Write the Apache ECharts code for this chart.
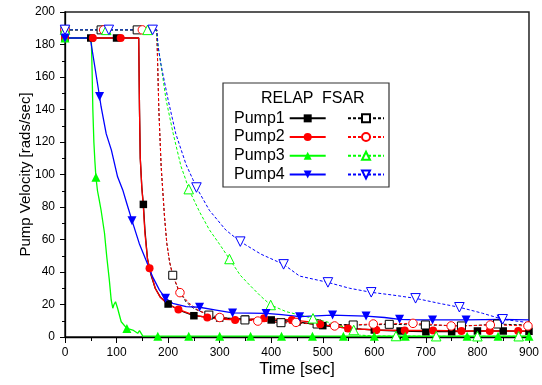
<!DOCTYPE html>
<html><head><meta charset="utf-8">
<script src="https://cdn.jsdelivr.net/npm/echarts@6/dist/echarts.min.js"></script>
<style>html,body{margin:0;padding:0;background:#fff}#c{width:542px;height:385px}</style>
</head><body><div id="c"></div>
<script>
// ---------- data (time [s], velocity [rads/sec]) ----------
const xTicks = [0,100,200,300,400,500,600,700,800,900];
const yTicks = [0,20,40,60,80,100,120,140,160,180,200];

const p1RelapMarks = [[0,184],[50,184],[100,184],[152,81.6],[200,20.3],[250,13.1],[300,11.7],[350,11],[400,10.5],[450,9.3],[500,7],[550,5.5],[600,4.3],[650,3.7],[700,3.3],[750,3.3],[800,3.7],[850,3.7],[900,3.5]];
const p1RelapCurve = [[143,184],[144.5,140],[146,110],[149,92],[155,66],[160,48],[167,38],[175,30],[185,24.5],[225,16],[275,12.2],[425,10],[475,8.2],[525,6.2],[575,4.8],[625,4]];

const p1FsarMarks = [[0,189],[70,189],[140,189],[209,38],[279,13.5],[349,10.5],[419,8.8],[489,8],[559,7.4],[629,7.8],[699,7.4],[769,6.8],[839,8]];
const p1FsarCurve = [[178,189],[180,165],[182,140],[186.5,105],[193,74],[197.5,57.6],[203,46],[220,29],[235,21.5],[250,17.5],[300,12],[380,9.8],[450,8.5],[520,7.8],[600,7.5],[660,7.6],[730,7.2],[800,7.2],[870,7.6],[900,7.5]];

const p2RelapMarks = [[0,184],[54,184],[108,184],[164,42.3],[220,17],[276,12],[330,10.5],[386,11.5],[440,10.5],[495,7.8],[549,5.3],[604,4.3],[659,4],[714,4],[769,3.7],[824,3.7],[879,3.7]];
const p2RelapCurve = [[143,184],[144.5,140],[146,110],[149,92],[152,80],[155,64],[160,48],[175,30],[184,24.8],[200,20],[250,13.5],[300,11],[360,11],[415,11],[470,9.5],[520,6.5],[900,3.7]];

const p2FsarMarks = [[0,189],[75,189],[150,189],[223,27.3],[300,12],[374,9.8],[448,9],[523,6.8],[598,8],[675,8.4],[749,6.8],[825,7.4],[898,6.8]];
const p2FsarCurve = [[178,189],[180,165],[182,140],[186.5,105],[193,74],[197.5,57.6],[203,46],[209,38],[240,21],[260,16],[330,11],[410,9.3],[480,8],[560,7.5],[640,8.2],[710,7.8],[790,7],[860,7.2],[900,6.8]];

const p3RelapMarks = [[0,184],[60,98.3],[120,5.3],[180,0.5],[240,0.5],[300,0.5],[360,0.5],[420,0.5],[480,0.5],[540,0.5],[600,0.5],[660,0.5],[720,0.5],[780,0.5],[840,0.5],[900,0.5]];
const p3RelapCurve = [[51,184],[52.5,165],[54,140],[56,120],[58,108],[63,90],[66,85],[70,78],[76.6,64],[81,49.4],[86,35],[89.6,22.8],[92.7,17.7],[95,20],[98,21.7],[102,17.7],[109,9.4],[131.5,4.3],[141,2.3],[144.5,3.9],[151,0.5]];

const p3FsarMarks = [[0,189],[80,189],[160,189],[240,91],[319,48],[399,19.7],[481,11.5],[560,4.3],[642,0.6],[720,0.5],[800,0.5],[880,0.5]];
const p3FsarCurve = [[177,189],[180,180],[185,170],[196,146],[210,125],[225,105],[234,97],[261,77],[280,66],[300,57],[340,38],[358,32],[380,25],[429,15.6],[519,8.4],[571,1.2],[600,0.6],[900,0.5]];

const p4RelapMarks = [[0,184],[67,148],[130,71.6],[195,23.8],[261,18.3],[325,14.8],[390,14.5],[455,12.5],[519,13.5],[584,12.9],[649,10.9],[713,10.5],[778,10.5],[846,10.9]];
const p4RelapCurve = [[47,184],[50,182],[55,172],[60,162],[70,141.7],[80,125],[90,115],[102,98.6],[112,90.5],[120,82],[144,57.6],[157,47.4],[170,37],[183,29],[209,20.7],[235,18.7],[293,16.6],[420,13.8],[550,13.2],[620,12],[680,10.5],[900,10.5]];

const p4FsarMarks = [[0,189],[85,189],[170,189],[255,92],[340,58.7],[424,44.7],[510,33.6],[594,27.5],[680,23.8],[765,18.3],[849,10.9]];
const p4FsarCurve = [[178,189],[181,178],[186,168],[200,146],[215,125],[235,106],[248,97],[280,78],[312,65.8],[380,51],[455,37.5],[552,30],[636,25.8],[726,20.7],[810,14.6],[900,8.8]];

// ---------- build ----------
const FONT = 'Liberation Sans, Arial, sans-serif';
const DOWN = 'path://M0,0 L10,0 L5,10 Z';
function merge(curve, marks){
  const a = curve.map(p => ({value:p, symbol:'none', m:0}));
  const b = marks.map(p => ({value:p, m:1}));
  return a.concat(b).sort((u,v)=>u.value[0]-v.value[0] || u.m - v.m).map(d => { const o = {value:d.value}; if(!d.m) o.symbol='none'; return o; });
}
function relap(name, color, symbol, size, curve, marks){
  return {name, type:'line', data:merge(curve,marks), symbol, symbolSize:size, showSymbol:true,
    lineStyle:{color, width:1.3, type:'solid'}, itemStyle:{color, borderWidth:0},
    emphasis:{disabled:true}, silent:true, z:3};
}
function fsar(name, color, symbol, size, curve, marks){
  return {name, type:'line', data:merge(curve,marks), symbol, symbolSize:size, showSymbol:true,
    lineStyle:{color, width:1, type:[3,2]}, itemStyle:{color:'#fff', borderColor:color, borderWidth:1},
    emphasis:{disabled:true}, silent:true, z:3};
}
const series = [
  relap('Pump1','#000000','rect',7.5,p1RelapCurve,p1RelapMarks),
  fsar('Pump1 FSAR','#000000','rect',8,p1FsarCurve,p1FsarMarks),
  relap('Pump2','#ff0000','circle',8,p2RelapCurve,p2RelapMarks),
  fsar('Pump2 FSAR','#ff0000','circle',8.5,p2FsarCurve,p2FsarMarks),
  relap('Pump3','#00ff00','triangle',9,p3RelapCurve,p3RelapMarks),
  fsar('Pump3 FSAR','#00ff00','triangle',9.5,p3FsarCurve,p3FsarMarks),
  relap('Pump4','#0000ff',DOWN,9,p4RelapCurve,p4RelapMarks),
  fsar('Pump4 FSAR','#0000ff',DOWN,9.5,p4FsarCurve,p4FsarMarks)
];

const chart = echarts.init(document.getElementById('c'), null, {renderer:'canvas'});
chart.setOption({
  animation:false,
  backgroundColor:'#fff',
  textStyle:{fontFamily:FONT},
  grid:{left:65, right:13, top:12, bottom:48, show:true, borderColor:'#222', borderWidth:1.5, backgroundColor:'transparent'},
  xAxis:{type:'value', min:xTicks[0], max:xTicks[xTicks.length-1], interval:100,
    name:'Time [sec]', nameLocation:'middle', nameGap:24, nameMoveOverlap:false, nameTextStyle:{fontSize:16.5, color:'#000', fontFamily:FONT},
    axisLine:{show:true, lineStyle:{color:'#000', width:1.3}},
    axisTick:{show:true, length:6, lineStyle:{color:'#000'}},
    minorTick:{show:true, splitNumber:2, length:4, lineStyle:{color:'#000'}},
    splitLine:{show:false},
    axisLabel:{fontSize:12, color:'#000', margin:10, fontFamily:FONT}},
  yAxis:{type:'value', min:yTicks[0], max:yTicks[yTicks.length-1], interval:20,
    name:'Pump Velocity [rads/sec]', nameLocation:'middle', nameGap:32, nameMoveOverlap:false, nameTextStyle:{fontSize:15, color:'#000', fontFamily:FONT},
    axisLine:{show:true, lineStyle:{color:'#000', width:1.3}},
    axisTick:{show:true, length:5, lineStyle:{color:'#000'}},
    minorTick:{show:true, splitNumber:2, length:3, lineStyle:{color:'#000'}},
    splitLine:{show:false},
    axisLabel:{fontSize:12, color:'#000', margin:10, fontFamily:FONT}},
  legend:[
    {data:['Pump1','Pump2','Pump3','Pump4'], orient:'vertical', left:229, top:104, align:'right',
     itemWidth:36, itemHeight:10, itemGap:0, selectedMode:false,
     textStyle:{fontSize:16, color:'#000', fontFamily:FONT, lineHeight:18.7}},
    {data:['Pump1 FSAR','Pump2 FSAR','Pump3 FSAR','Pump4 FSAR'], orient:'vertical', left:342, top:104, align:'left',
     itemWidth:36, itemHeight:10, itemGap:0, selectedMode:false, formatter:()=>' ',
     textStyle:{fontSize:16, color:'#000', fontFamily:FONT, lineHeight:18.7}}
  ],
  graphic:[
    {type:'rect', shape:{x:223, y:83, width:166, height:104}, style:{fill:'#fff', stroke:'#333', lineWidth:1.2}, z:-1, silent:true},
    {type:'text', style:{text:'RELAP', x:261, y:99, fontSize:16, fontFamily:FONT, fill:'#000', verticalAlign:'middle'}, silent:true},
    {type:'text', style:{text:'FSAR', x:322, y:99, fontSize:16, fontFamily:FONT, fill:'#000', verticalAlign:'middle'}, silent:true}
  ],
  series
});
</script></body></html>
